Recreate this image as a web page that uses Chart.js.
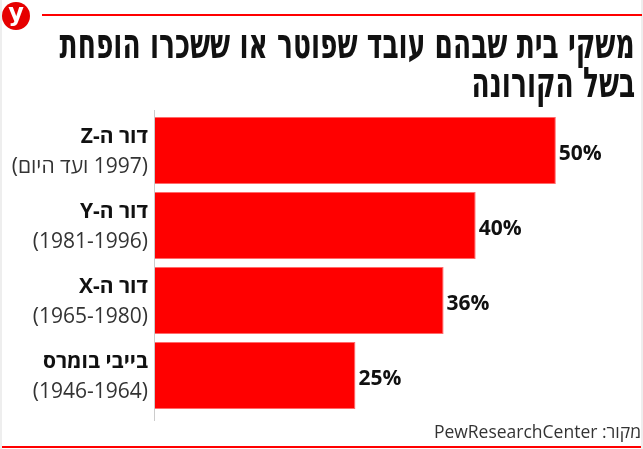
<!DOCTYPE html>
<html lang="he">
<head>
<meta charset="utf-8">
<script src="https://cdn.jsdelivr.net/npm/chart.js@4.4.0/dist/chart.umd.min.js"></script>
<style>
  html, body { margin: 0; padding: 0; background: #fff; }
  #wrap { position: relative; width: 643px; height: 449px; overflow: hidden; background: #fff; }
  #wrap canvas { position: absolute; left: 0; top: 0; }
  .edge { position: absolute; top: 0; width: 2px; height: 449px; background: #eeeeee; }
  .redline { position: absolute; background: #ff0000; }
  #logo { position: absolute; left: 2px; top: 2px; width: 28px; height: 28px; border-radius: 50%; background: #e60000;
          color: #fff; font: bold 24px "DejaVu Sans", sans-serif; text-align: center; line-height: 22px; }
  #title { position: absolute; right: 8px; top: 24px; direction: rtl; text-align: right;
           font-family: "DejaVu Sans Condensed", "DejaVu Sans", sans-serif; font-stretch: condensed;
           font-weight: bold; font-size: 42px; line-height: 39px; color: #111; }
  #title span { display: inline-block; white-space: nowrap; transform-origin: right center; }
  #source { position: absolute; right: 2px; top: 421px; direction: rtl; white-space: nowrap;
            font: 17.5px "Open Sans", "DejaVu Sans", sans-serif; line-height: 20px; color: #333; }
</style>
</head>
<body>
<div id="wrap">
  <canvas id="grafica" width="643" height="449"></canvas>
  <div class="edge" style="left:0"></div>
  <div class="edge" style="left:641px"></div>
  <div id="logo">y</div>
  <div class="redline" style="left:42px; top:14px; width:600px; height:2px"></div>
  <div id="title"><span>משקי בית שבהם עובד שפוטר או ששכרו הופחת</span><br><span>בשל הקורונה</span></div>
  <div id="source">מקור: PewResearchCenter</div>
  <div class="redline" style="left:2px; top:446px; width:639px; height:2px"></div>
</div>
<script>
// Datos del gráfico
const generaciones = ['דור ה-Z', 'דור ה-Y', 'דור ה-X', 'בייבי בומרס'];
const anios = ['(1997 ועד היום)', '(1981-1996)', '(1965-1980)', '(1946-1964)'];
const porcentajes = [50, 40, 36, 25];

// Ajustar el ancho del título condensado
const lineas = document.querySelectorAll('#title span');
const escala = 575 / lineas[0].getBoundingClientRect().width;
lineas.forEach(l => l.style.transform = 'scaleX(' + escala + ')');

// Etiquetas de categorías y valores
const etiquetas = {
    id: 'etiquetas',
    afterDatasetsDraw(chart) {
        const ctx = chart.ctx;
        const ejeY = chart.scales.y;
        const meta = chart.getDatasetMeta(0);
        ctx.save();
        ctx.strokeStyle = '#cccccc';
        ctx.lineWidth = 1;
        ctx.beginPath();
        ctx.moveTo(154.5, chart.chartArea.top - 3);
        ctx.lineTo(154.5, chart.chartArea.bottom + 8);
        ctx.stroke();

        ctx.direction = 'rtl';
        ctx.textBaseline = 'alphabetic';
        generaciones.forEach((nombre, i) => {
            const cy = ejeY.getPixelForValue(i);
            ctx.textAlign = 'right';
            ctx.font = 'bold 21px "Open Sans", "DejaVu Sans", sans-serif';
            ctx.fillStyle = '#111';
            ctx.fillText(nombre, 148, cy - 7.5);

            ctx.font = '21px "Open Sans", "DejaVu Sans", sans-serif';
            ctx.fillStyle = '#333';
            ctx.fillText(anios[i], 148, cy + 22.5);

            const barra = meta.data[i];
            ctx.textAlign = 'left';
            ctx.font = 'bold 21px "Open Sans", "DejaVu Sans", sans-serif';
            ctx.fillStyle = '#111';
            ctx.fillText(porcentajes[i] + '%', barra.x + 3, cy + 9);
        });
        ctx.restore();
    }
};

const ctx = document.getElementById('grafica').getContext('2d');
const grafica = new Chart(ctx, {
    type: 'bar',
    data: {
        labels: generaciones,
        datasets: [{
            data: porcentajes,
            backgroundColor: '#ff0000',
            borderColor: '#ff6b6b',
            borderWidth: 1,
            categoryPercentage: 1,
            barPercentage: 0.893
        }]
    },
    options: {
        indexAxis: 'y',
        responsive: false,
        animation: false,
        layout: { padding: { left: 155, top: 113, right: 7, bottom: 36 } },
        scales: {
            x: { display: false, min: 0, max: 60 },
            y: { display: false }
        },
        plugins: {
            legend: { display: false },
            tooltip: { enabled: false }
        }
    },
    plugins: [etiquetas]
});
</script>
</body>
</html>
